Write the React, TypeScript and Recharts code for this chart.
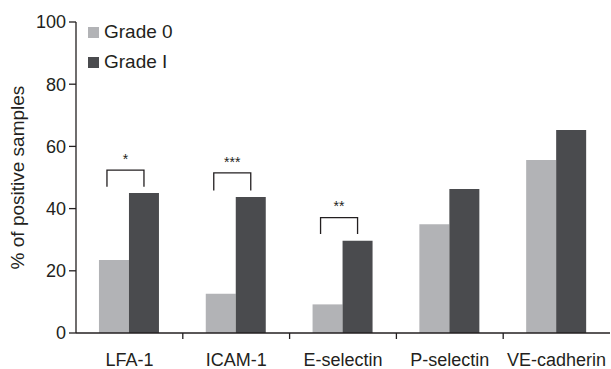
import React from "react";
import { BarChart, Bar, XAxis, YAxis, LabelList, Label } from "recharts";

const categories = ["LFA-1", "ICAM-1", "E-selectin", "P-selectin", "VE-cadherin"];
const grade0 = [23.5, 12.6, 9.2, 35.0, 55.6];
const grade1 = [45.0, 43.7, 29.7, 46.3, 65.3];
const yTicks = [0, 20, 40, 60, 80, 100];
const seriesNames = ["Grade 0", "Grade I"];
const sigStars = ["*", "***", "**"];
const bracketTop = [52.4, 51.5, 37.1];
const bracketLeg = [47.0, 45.8, 31.8];
const starLevel = [56.4, 55.2, 41.0];

const data = categories.map((name, i) => ({ name, g0: grade0[i], g1: grade1[i] }));

const W = 611;
const H = 369;
const M = { top: 22, right: 1, left: 0, bottom: 0 };
const Y_W = 76;
const X_H = 36;
const BAND = (W - M.left - M.right - Y_W) / categories.length;
const FONT = "'Liberation Sans', Arial, Helvetica, sans-serif";
const C_LIGHT = "#b2b3b6";
const C_DARK = "#4a4b4e";
const INK = "#231f20";
const COLORS = [C_LIGHT, C_DARK];

const XTick = (props: any) => {
  const { x, y, payload, index } = props;
  return (
    <g>
      {index > 0 && (
        <line x1={x - BAND / 2} x2={x - BAND / 2} y1={y} y2={y + 6} stroke={INK} strokeWidth={1.3} />
      )}
      <text x={x} y={y + 33} textAnchor="middle" fontSize={18} fontFamily={FONT} fill={INK}>
        {payload.value}
      </text>
    </g>
  );
};

const Bracket = (props: any) => {
  const { x, y, width, height, value, index } = props;
  if (index >= sigStars.length) return null;
  const ppu = height / value;
  const base = y + height;
  const top = base - bracketTop[index] * ppu;
  const leg = base - bracketLeg[index] * ppu;
  const starY = base - starLevel[index] * ppu;
  const right = x + width / 2;
  const left = right - 37;
  return (
    <g>
      <path
        d={`M${left},${leg} L${left},${top} L${right},${top} L${right},${leg}`}
        fill="none"
        stroke={INK}
        strokeWidth={1.3}
      />
      <text
        x={(left + right) / 2}
        y={starY + 6}
        textAnchor="middle"
        fontSize={14}
        fontFamily={FONT}
        fill={INK}
      >
        {sigStars[index]}
      </text>
    </g>
  );
};

const LegendBox = () => (
  <div
    style={{
      position: "absolute",
      left: 88,
      top: 17,
      fontFamily: FONT,
      fontSize: 19,
      color: INK,
      lineHeight: "30px",
    }}
  >
    {seriesNames.map((label, i) => (
      <div key={label} style={{ display: "flex", alignItems: "center", height: 30 }}>
        <span style={{ width: 11, height: 11, background: COLORS[i], display: "inline-block", marginRight: 5 }} />
        <span>{label}</span>
      </div>
    ))}
  </div>
);

const YLabel = (props: any) => {
  const vb = props.viewBox;
  const cx = 17;
  const cy = vb.y + vb.height / 2;
  return (
    <text
      x={cx}
      y={cy}
      transform={`rotate(-90, ${cx}, ${cy})`}
      textAnchor="middle"
      dominantBaseline="central"
      fontSize={19}
      fontFamily={FONT}
      fill={INK}
    >
      % of positive samples
    </text>
  );
};

export default function App() {
  return (
    <div style={{ position: "absolute", left: 0, top: 0, width: W, height: H, background: "#fff" }}>
      <BarChart width={W} height={H} data={data} margin={M} barCategoryGap="21.5%" barGap={0}>
        <XAxis
          dataKey="name"
          height={X_H}
          tickLine={false}
          tickSize={0}
          tickMargin={0}
          axisLine={{ stroke: INK, strokeWidth: 1.3 }}
          tick={<XTick />}
          interval={0}
        />
        <YAxis
          width={Y_W}
          domain={[0, 100]}
          ticks={yTicks}
          tickSize={7}
          tickMargin={3}
          axisLine={{ stroke: INK, strokeWidth: 1.3 }}
          tickLine={{ stroke: INK, strokeWidth: 1.3 }}
          tick={{ fontSize: 18, fontFamily: FONT, fill: INK }}
        >
          <Label content={<YLabel />} />
        </YAxis>
        <Bar dataKey="g0" name={seriesNames[0]} fill={C_LIGHT} isAnimationActive={false} />
        <Bar dataKey="g1" name={seriesNames[1]} fill={C_DARK} isAnimationActive={false}>
          <LabelList dataKey="g1" content={<Bracket />} />
        </Bar>
      </BarChart>
      <LegendBox />
    </div>
  );
}
